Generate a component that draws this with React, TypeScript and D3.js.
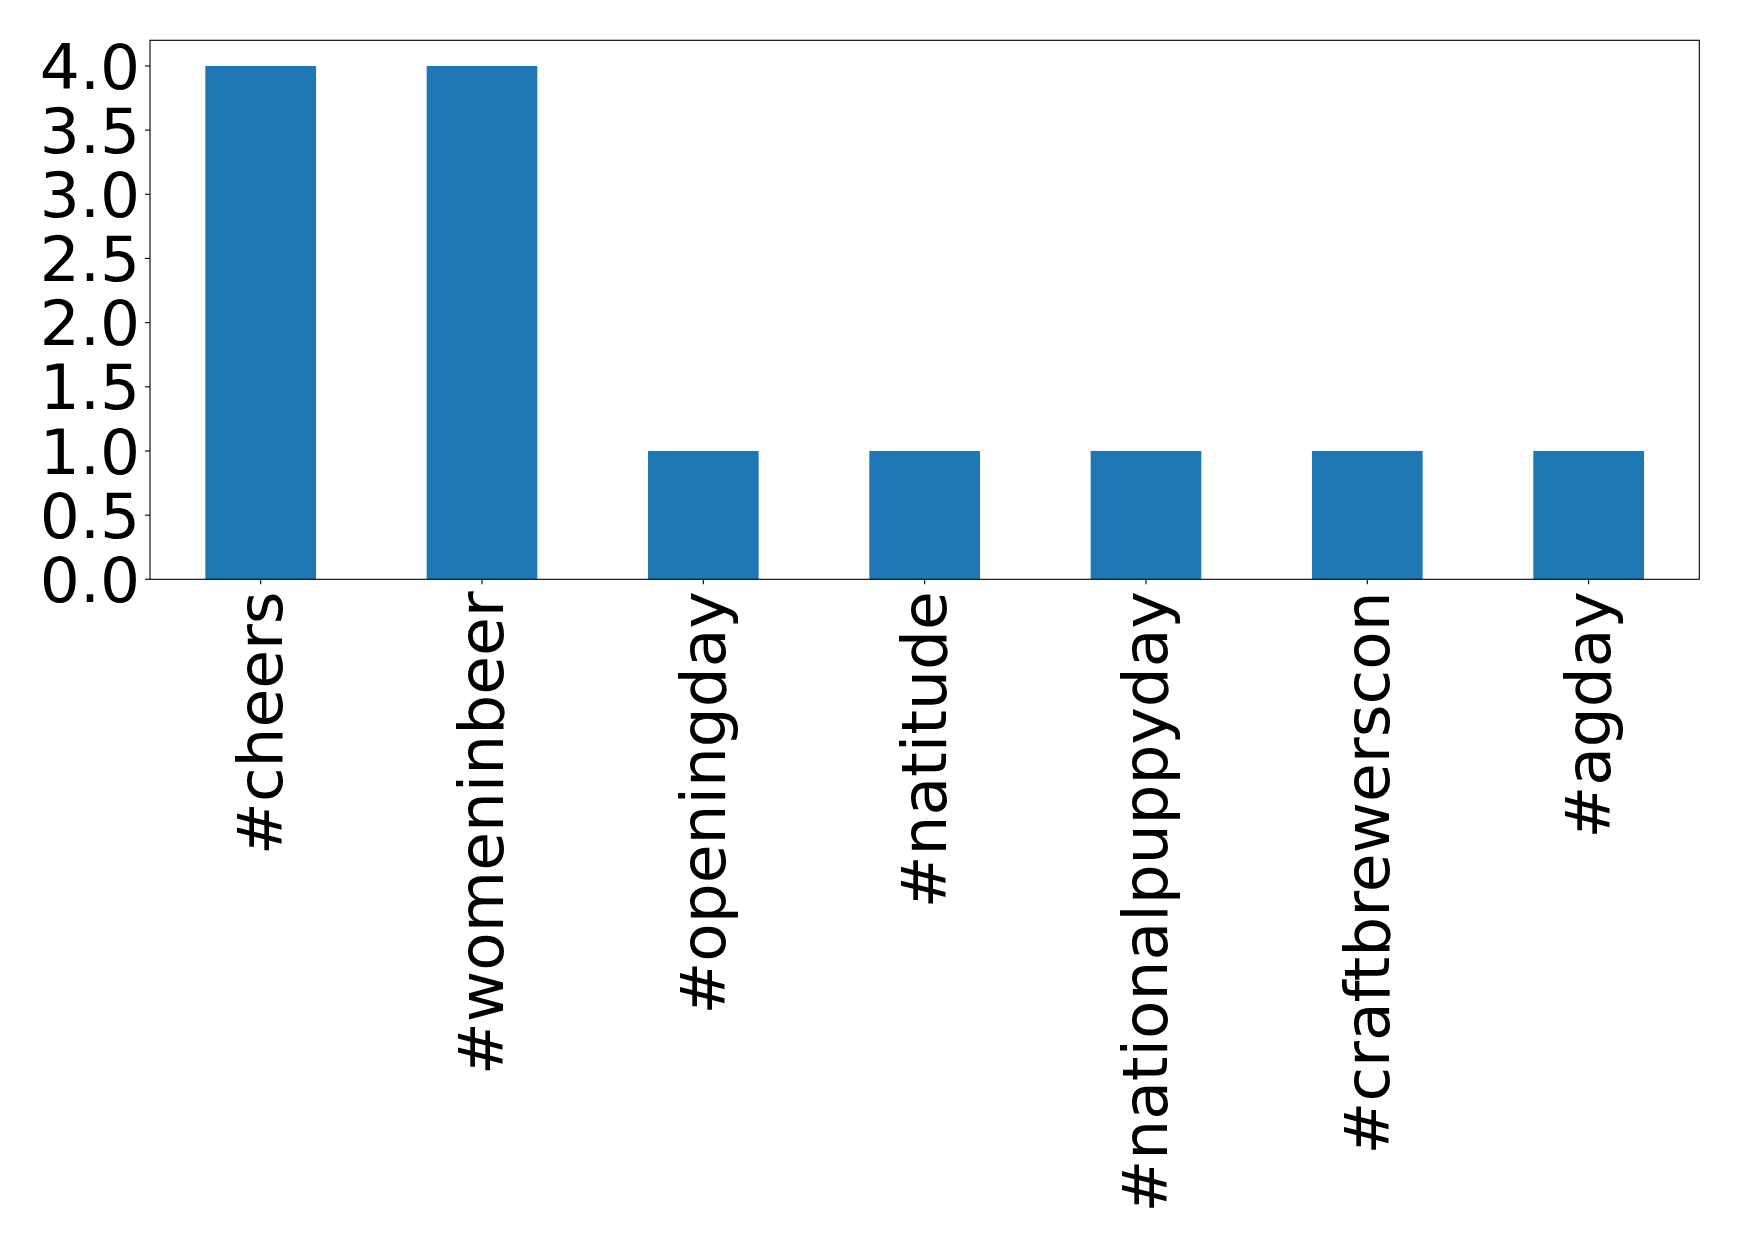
import React from "react";
import * as d3 from "d3";

const categories = ["#cheers", "#womeninbeer", "#openingday", "#natitude", "#nationalpuppyday", "#craftbrewerscon", "#agday"];
const values = [4, 4, 1, 1, 1, 1, 1];
const yTicks = [0, 0.5, 1, 1.5, 2, 2.5, 3, 3.5, 4];

const W = 1739, H = 1244;
const L = 150, R = 1699.3, T = 40.3, B = 579.3;
const FS = 63;

export default function App() {
  const x = d3.scaleLinear().domain([-0.5, categories.length - 0.5]).range([L, R]);
  const y = d3.scaleLinear().domain([0, 4.2]).range([B, T]);
  const bw = x(0.25) - x(0);
  return (
    <svg width={W} height={H} style={{ position: "absolute", left: 0, top: 0, background: "#fff" }}
      fontFamily="DejaVu Sans">
      <rect x={0} y={0} width={W} height={H} fill="#fff" />
      {values.map((v, i) => (
        <rect key={i} x={x(i) - bw} y={y(v)} width={bw * 2} height={y(0) - y(v)} fill="#1f77b4" />
      ))}
      <rect x={L} y={T} width={R - L} height={B - T} fill="none" stroke="#000" strokeWidth={1.1} />
      {yTicks.map((t) => (
        <g key={t}>
          <line x1={L - 5} x2={L} y1={y(t)} y2={y(t)} stroke="#000" strokeWidth={1.1} />
          <text x={L - 10} y={y(t)} dy="0.36em" textAnchor="end" fontSize={FS} fill="#000">{t.toFixed(1)}</text>
        </g>
      ))}
      {categories.map((c, i) => (
        <g key={c}>
          <line x1={x(i)} x2={x(i)} y1={B} y2={B + 5} stroke="#000" strokeWidth={1.1} />
          <text transform={`translate(${x(i)},${B + 12}) rotate(-90)`} dy="0.34em" textAnchor="end"
            fontSize={FS} fill="#000">{c}</text>
        </g>
      ))}
    </svg>
  );
}
